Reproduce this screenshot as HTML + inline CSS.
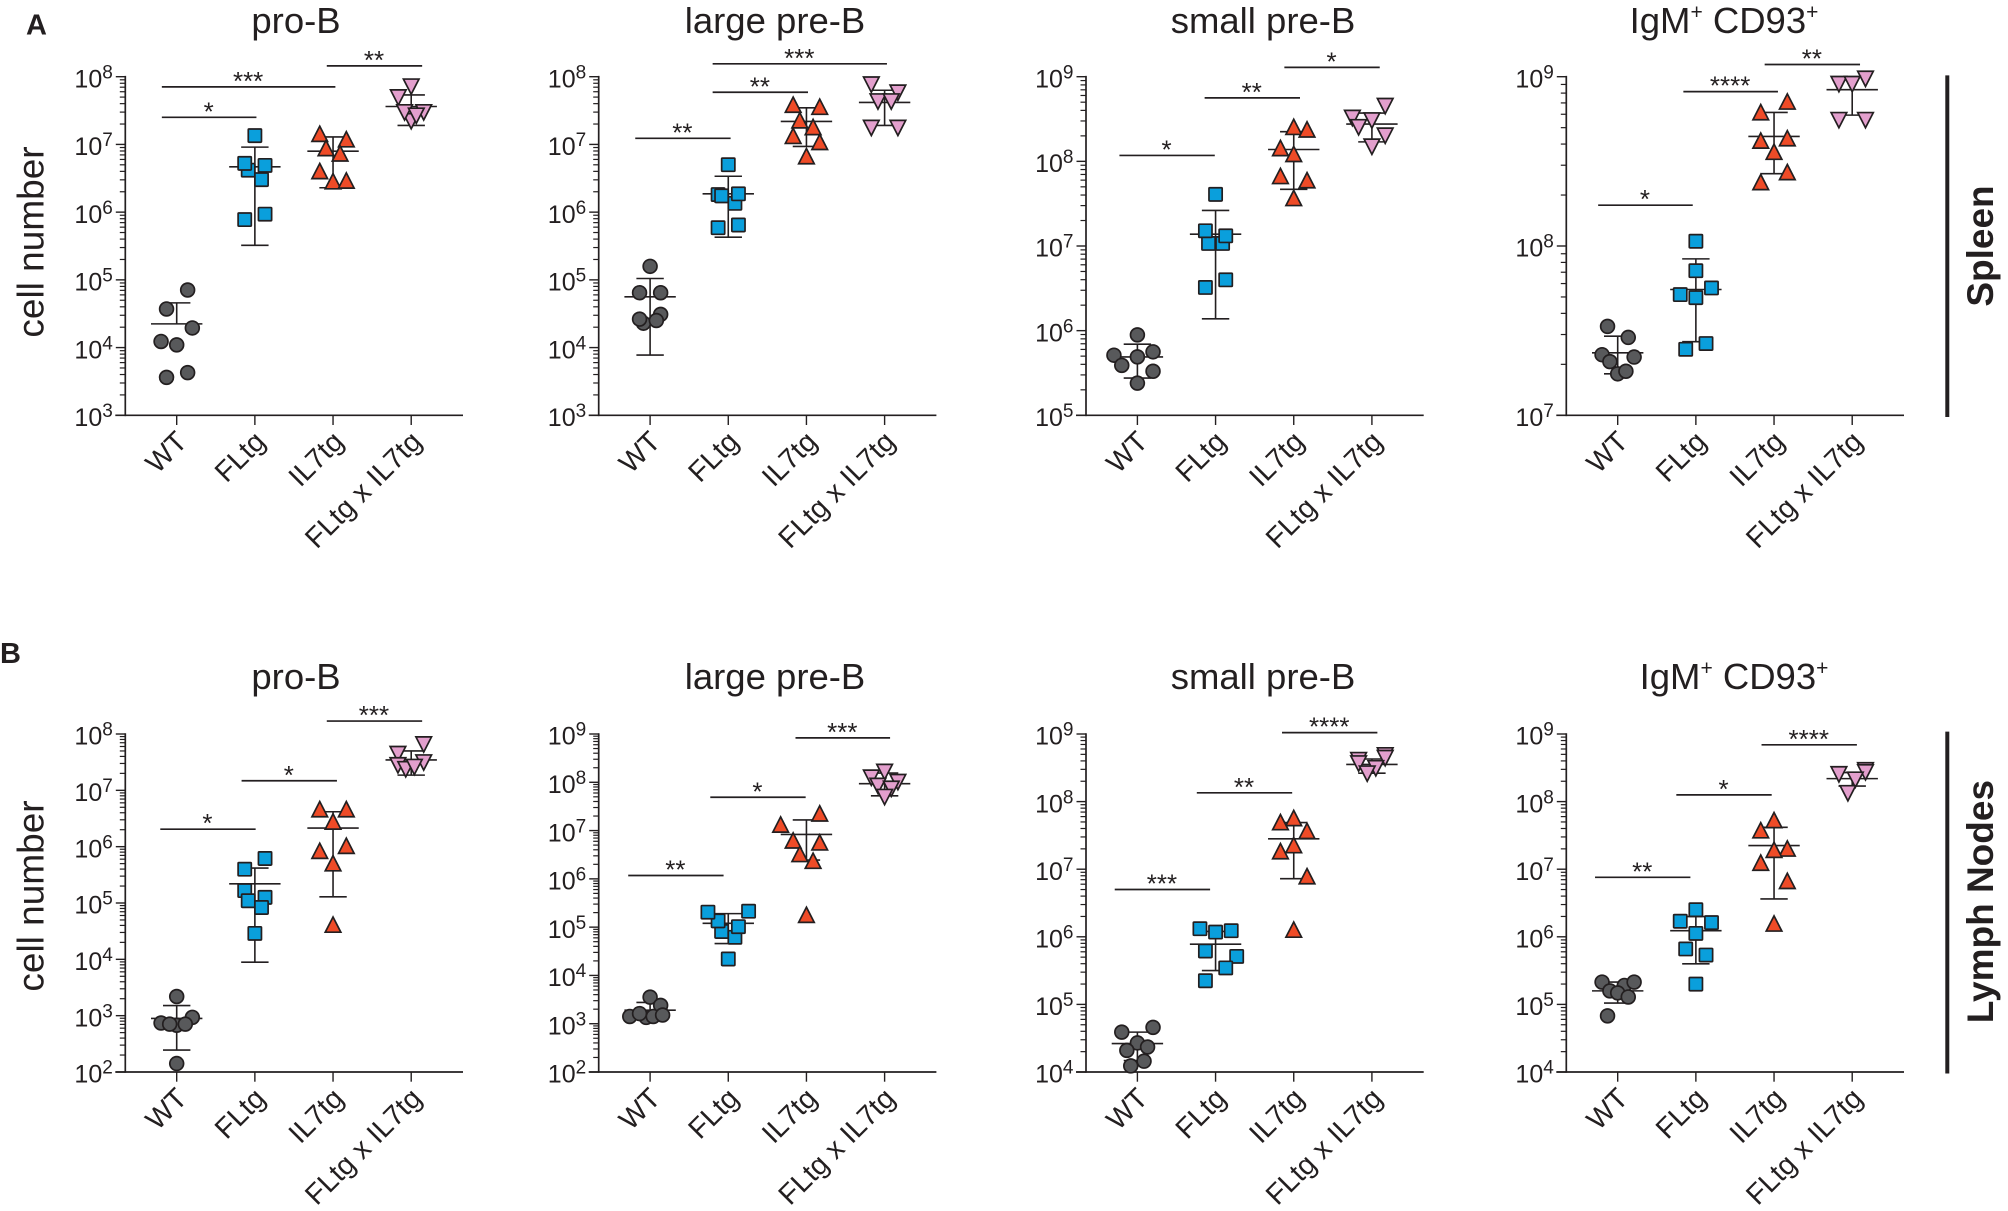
<!DOCTYPE html>
<html lang="en">
<head>
<meta charset="utf-8">
<title>B-cell subsets in spleen and lymph nodes</title>
<style>
  html, body { margin: 0; padding: 0; background: #fff; }
  svg { display: block; }
  text { font-family: "Liberation Sans", sans-serif; fill: #231f20; }
</style>
</head>
<body>
<svg id="figure" xmlns="http://www.w3.org/2000/svg" width="2008" height="1211" viewBox="0 0 2008 1211"></svg>
<script>
// Shared category labels. All y values below are log10(cell number).
const categories = ['WT', 'FLtg', 'IL7tg', 'FLtg x IL7tg'];

// Spleen pro-B
const spleenProBDecades = [3, 8];
const spleenProBValues = [[4.85,4.57,4.29,4.09,4.04,3.63,3.56],[7.13,6.62,6.72,6.69,6.48,5.97,5.89],[7.16,7.08,6.95,6.87,6.61,6.46,6.47],[7.85,7.69,7.34,7.47,7.47,7.42]];
const spleenProBOffsets = [[.14,-.13,.2,-.2,0,.14,-.13],[0,-.085,-.13,.13,.085,.13,-.13],[-.17,.17,-.09,.09,-.17,0,.17],[0,-.165,0,-.085,.16,.065]];
const spleenProBMeans = [4.35,6.67,6.90,7.56];
const spleenProBHighs = [4.66,6.96,7.11,7.73];
const spleenProBLows = [null,5.51,6.36,7.28];
const spleenProBStars = ['*','***','**'];
const spleenProBStarLevels = [7.40,7.85,8.16];
const spleenProBStarFrom = [-.19,-.19,1.92];
const spleenProBStarTo = [1.02,2.03,3.14];

// Spleen large pre-B
const spleenLargeDecades = [3, 8];
const spleenLargeValues = [[5.20,4.81,4.81,4.49,4.36,4.42,4.40],[6.70,6.26,6.13,6.24,6.27,5.81,5.77],[7.59,7.56,7.36,7.26,7.13,7.04,6.83],[7.88,7.76,7.63,7.63,7.24,7.24]];
const spleenLargeOffsets = [[0,-.135,.135,.135,-.085,-.135,.08],[0,-.13,.085,-.085,.13,.13,-.13],[-.17,.17,-.085,.085,-.17,.17,0],[-.17,.17,-.085,.085,-.17,.17]];
const spleenLargeMeans = [4.75,6.27,7.34,7.62];
const spleenLargeHighs = [5.02,6.53,7.54,7.80];
const spleenLargeLows = [3.89,5.63,6.97,7.28];
const spleenLargeStars = ['**','**','***'];
const spleenLargeStarLevels = [7.09,7.77,8.19];
const spleenLargeStarFrom = [-.19,.80,.80];
const spleenLargeStarTo = [1.03,2.02,3.03];

// Spleen small pre-B
const spleenSmallDecades = [5, 9];
const spleenSmallValues = [[5.95,5.75,5.71,5.59,5.69,5.52,5.38],[7.61,7.03,7.03,7.18,7.12,6.60,6.51],[8.41,8.38,8.16,8.09,7.83,7.78,7.57],[8.65,8.51,8.48,8.40,8.30,8.17]];
const spleenSmallOffsets = [[0,.2,-.3,-.2,0,.2,0],[0,-.09,.09,-.13,.13,.13,-.13],[0,.17,-.17,0,-.17,.17,0],[.17,-.25,0,-.17,.17,0]];
const spleenSmallMeans = [5.69,7.14,8.14,8.44];
const spleenSmallHighs = [5.84,7.42,8.35,8.57];
const spleenSmallLows = [5.44,6.14,7.67,8.23];
const spleenSmallStars = ['*','**','*'];
const spleenSmallStarLevels = [8.07,8.75,9.11];
const spleenSmallStarFrom = [-.23,.86,1.88];
const spleenSmallStarTo = [.99,2.08,3.10];

// Spleen IgM+ CD93+
const spleenIgmDecades = [7, 9];
const spleenIgmValues = [[7.525,7.460,7.358,7.344,7.317,7.245,7.260],[8.028,7.854,7.752,7.713,7.695,7.424,7.390],[8.855,8.792,8.624,8.638,8.558,8.438,8.379],[8.986,8.955,8.955,8.742,8.742]];
const spleenIgmOffsets = [[-.13,.135,-.2,.21,-.1,0,.105],[0,0,.2,-.2,0,.13,-.13],[.17,-.17,-.17,.17,0,.17,-.17],[.17,-.17,0,-.17,.17]];
const spleenIgmMeans = [7.369,7.743,8.647,8.923];
const spleenIgmHighs = [7.467,7.924,8.789,8.998];
const spleenIgmLows = [7.245,7.435,8.427,8.773];
const spleenIgmStars = ['*','****','**'];
const spleenIgmStarLevels = [8.241,8.912,9.072];
const spleenIgmStarFrom = [-.25,.84,1.88];
const spleenIgmStarTo = [.96,2.05,3.10];

// Lymph node pro-B
const nodeProBDecades = [2, 8];
const nodeProBValues = [[3.34,2.97,2.83,2.87,2.85,2.85,2.15],[5.79,5.60,5.22,5.10,5.04,4.92,4.46],[6.67,6.67,6.45,5.93,6.02,5.71,4.62],[7.81,7.64,7.49,7.44,7.37,7.41]];
const nodeProBOffsets = [[0,.2,0,-.2,-.09,.11,0],[.13,-.13,-.13,.13,-.085,.085,0],[-.17,.17,0,-.17,.17,0,0],[.16,-.17,.16,-.17,-.07,.04]];
const nodeProBMeans = [2.95,5.34,6.33,7.54];
const nodeProBHighs = [3.18,5.62,6.62,7.70];
const nodeProBLows = [2.39,3.95,5.11,7.27];
const nodeProBStars = ['*','*','***'];
const nodeProBStarLevels = [6.31,7.17,8.23];
const nodeProBStarFrom = [-.21,.83,1.92];
const nodeProBStarTo = [1.01,2.05,3.14];

// Lymph node large pre-B
const nodeLargeDecades = [2, 9];
const nodeLargeValues = [[3.55,3.38,3.15,3.13,3.21,3.15,3.18],[4.34,4.91,4.79,5.13,5.01,5.31,5.33],[7.36,7.13,6.80,6.76,6.52,6.38,5.26],[8.21,8.09,8.00,7.92,7.86,7.69]];
const nodeLargeOffsets = [[0,.135,-.26,-.05,-.135,.04,.16],[0,-.085,.085,-.13,.13,-.26,.26],[.17,-.33,-.17,.17,-.085,.085,0],[0,-.17,.17,-.085,.085,0]];
const nodeLargeMeans = [3.28,5.08,6.92,7.97];
const nodeLargeHighs = [3.44,5.28,7.22,8.19];
const nodeLargeLows = [3.09,4.66,6.39,7.72];
const nodeLargeStars = ['**','*','***'];
const nodeLargeStarLevels = [6.07,7.69,8.92];
const nodeLargeStarFrom = [-.28,.77,1.86];
const nodeLargeStarTo = [.94,1.99,3.07];

// Lymph node small pre-B
const nodeSmallDecades = [4, 9];
const nodeSmallValues = [[4.66,4.59,4.43,4.37,4.32,4.16,4.09],[6.12,6.09,6.07,5.79,5.71,5.54,5.35],[7.76,7.70,7.57,7.36,7.27,6.90,6.11],[8.68,8.64,8.61,8.56,8.49,8.41]];
const nodeSmallOffsets = [[.2,-.2,0,.13,-.135,.085,-.085],[-.2,.2,0,-.13,.27,.13,-.13],[0,-.17,.17,0,-.17,.17,0],[.17,.17,-.17,-.17,.05,-.06]];
const nodeSmallMeans = [4.42,5.89,7.45,8.55];
const nodeSmallHighs = [4.59,6.08,7.69,8.63];
const nodeSmallLows = [4.17,5.50,6.86,8.42];
const nodeSmallStars = ['***','**','****'];
const nodeSmallStarLevels = [6.70,8.13,9.02];
const nodeSmallStarFrom = [-.29,.76,1.85];
const nodeSmallStarTo = [.93,1.98,3.07];

// Lymph node IgM+ CD93+
const nodeIgmDecades = [4, 9];
const nodeIgmValues = [[5.28,5.33,5.33,5.20,5.17,5.11,4.83],[6.40,6.23,6.21,6.05,5.82,5.73,5.30],[7.73,7.58,7.31,7.29,7.10,6.83,6.20],[8.46,8.43,8.40,8.32,8.12]];
const nodeIgmOffsets = [[.085,-.2,.21,-.1,0,.135,-.13],[0,-.2,.2,0,-.13,.13,0],[0,-.17,.17,0,-.17,.17,0],[.17,.17,-.17,.04,-.055]];
const nodeIgmMeans = [5.20,6.09,7.35,8.34];
const nodeIgmHighs = [5.33,6.30,7.62,8.43];
const nodeIgmLows = [5.02,5.60,6.56,8.23];
const nodeIgmStars = ['**','*','****'];
const nodeIgmStarLevels = [6.88,8.10,8.84];
const nodeIgmStarFrom = [-.29,.75,1.84];
const nodeIgmStarTo = [.93,1.97,3.06];

const SVG_NS = 'http://www.w3.org/2000/svg';
const figure = document.getElementById('figure');
const INK = '#231f20';
const CATEGORY_STEP = 78.17;
const FIRST_CATEGORY = 51.4;
const GROUP_FILLS = ['#58595b', '#0a9fdc', '#ef4b27', '#e39fcd'];
const GROUP_NAMES = ['wt', 'fltg', 'il7tg', 'fltg-x-il7tg'];

function node(tag, parent, attrs) {
  const el = document.createElementNS(SVG_NS, tag);
  for (const key in attrs) el.setAttribute(key, attrs[key]);
  parent.appendChild(el);
  return el;
}

function rule(parent, name, x1, y1, x2, y2, width) {
  const el = node('line', parent, { x1: x1, y1: y1, x2: x2, y2: y2, stroke: INK, 'stroke-width': width });
  
  
  return el;
}

function label(parent, name, x, y, size, anchor, rotation, weight) {
  const el = node('text', parent, {
    transform: 'translate(' + x + ' ' + y + ') rotate(' + rotation + ')',
    'font-size': size,
    'text-anchor': anchor,
    'font-weight': weight
  });
  
  
  return el;
}

function span(parent, content, attrs) {
  const el = node('tspan', parent, attrs);
  el.textContent = content;
  return el;
}

function drawSymbol(parent, group, cx, cy, name) {
  const style = { fill: GROUP_FILLS[group], stroke: INK, 'stroke-width': 1.7, 'stroke-linejoin': 'miter' };
  let el;
  if (group === 0) {
    el = node('circle', parent, Object.assign({ cx: cx, cy: cy, r: 6.9 }, style));
  } else if (group === 1) {
    el = node('rect', parent, Object.assign({ x: cx - 6.6, y: cy - 6.6, width: 13.2, height: 13.2, rx: 0.8 }, style));
  } else if (group === 2) {
    el = node('polygon', parent, Object.assign({ points: [cx, cy - 7.4, cx + 7.8, cy + 7.8, cx - 7.8, cy + 7.8].join(' ') }, style));
  } else {
    el = node('polygon', parent, Object.assign({ points: [cx, cy + 7.4, cx + 7.8, cy - 7.8, cx - 7.8, cy - 7.8].join(' ') }, style));
  }
  
  
}

function drawPanel(p) {
  const g = node('g', figure, {});
  
  

  const yMin = p.decades[0];
  const yMax = p.decades[1];
  const yScale = function (v) { return p.bottom - (v - yMin) / (yMax - yMin) * (p.bottom - p.top); };
  const xScale = function (c) { return p.axisX + FIRST_CATEGORY + c * CATEGORY_STEP; };

  // Title
  const title = label(g, p.id + '-title', p.titleX, p.titleY, 36.5, 'middle', 0, 'normal');
  p.title.forEach(function (part) {
    if (part[1]) {
      span(title, part[0], { 'font-size': 21, dy: -14 });
    } else {
      span(title, part[0], { dy: title.childNodes.length ? 14 : 0 });
    }
  });

  // Axes
  rule(g, p.id + '-y-axis', p.axisX, p.top - 0.8, p.axisX, p.bottom + 0.8, 1.7);
  rule(g, p.id + '-x-axis', p.axisX - 10, p.bottom, p.axisX + 337.7, p.bottom, 1.7);

  // Y ticks and labels
  for (let e = yMin; e <= yMax; e++) {
    const ty = yScale(e);
    rule(g, p.id + '-y-tick-' + e, p.axisX - 9.5, ty, p.axisX, ty, 1.4);
    const tick = label(g, p.id + '-y-tick-label-' + e, p.axisX - 12.5, ty + 10.7, 25, 'end', 0, 'normal');
    span(tick, '10', {});
    span(tick, String(e), { 'font-size': 19, dy: -9 });
    if (e < yMax) {
      for (let m = 2; m < 10; m++) {
        const my = yScale(e + Math.log10(m));
        rule(g, p.id + '-y-minor-tick', p.axisX - 5.5, my, p.axisX, my, 1.2);
      }
    }
  }

  // X ticks and labels
  categories.forEach(function (cat, c) {
    const cx = xScale(c);
    rule(g, p.id + '-x-tick-' + GROUP_NAMES[c], cx, p.bottom, cx, p.bottom + 9.7, 1.4);
    const text = label(g, p.id + '-x-label-' + GROUP_NAMES[c], cx + 12, p.bottom + 28, 28.5, 'end', -45, 'normal');
    text.textContent = cat;
  });

  // Mean lines and SD whiskers
  categories.forEach(function (cat, c) {
    const cx = xScale(c);
    const mean = yScale(p.means[c]);
    const high = yScale(p.highs[c]);
    const hasLow = p.lows[c] !== null;
    const low = hasLow ? yScale(p.lows[c]) : mean;
    rule(g, p.id + '-sd-bar-' + GROUP_NAMES[c], cx, high, cx, low, 1.6);
    rule(g, p.id + '-mean-line-' + GROUP_NAMES[c], cx - 25.7, mean, cx + 25.7, mean, 1.6);
    rule(g, p.id + '-sd-high-cap-' + GROUP_NAMES[c], cx - 13.7, high, cx + 13.7, high, 1.6);
    if (hasLow) {
      rule(g, p.id + '-sd-low-cap-' + GROUP_NAMES[c], cx - 13.7, low, cx + 13.7, low, 1.6);
    }
  });

  // Data points
  p.values.forEach(function (series, c) {
    series.forEach(function (v, i) {
      drawSymbol(g, c, xScale(c + p.offsets[c][i]), yScale(v), p.id + '-point-' + GROUP_NAMES[c]);
    });
  });

  // Significance bars
  p.stars.forEach(function (s, i) {
    const sy = yScale(p.starLevels[i]);
    const x1 = xScale(p.starFrom[i]);
    const x2 = xScale(p.starTo[i]);
    rule(g, p.id + '-significance-bar-' + (i + 1), x1, sy, x2, sy, 1.7);
    const text = label(g, p.id + '-significance-stars-' + (i + 1), (x1 + x2) / 2 - 0.5, sy + 3, 26, 'middle', 0, 'normal');
    text.textContent = s;
  });
}

const ROW_A_TOP = 76.7, ROW_A_BOTTOM = 415.3, ROW_B_TOP = 734, ROW_B_BOTTOM = 1072;
const PRO_B = [['pro-B', false]];
const LARGE = [['large pre-B', false]];
const SMALL = [['small pre-B', false]];
const IGM = [['IgM', false], ['+', true], [' CD93', false], ['+', true]];

drawPanel({ id: 'spleen-pro-b', title: PRO_B, titleX: 296, titleY: 33, axisX: 125.3, top: ROW_A_TOP, bottom: ROW_A_BOTTOM, decades: spleenProBDecades, values: spleenProBValues, offsets: spleenProBOffsets, means: spleenProBMeans, highs: spleenProBHighs, lows: spleenProBLows, stars: spleenProBStars, starLevels: spleenProBStarLevels, starFrom: spleenProBStarFrom, starTo: spleenProBStarTo });
drawPanel({ id: 'spleen-large-pre-b', title: LARGE, titleX: 775, titleY: 33, axisX: 598.7, top: ROW_A_TOP, bottom: ROW_A_BOTTOM, decades: spleenLargeDecades, values: spleenLargeValues, offsets: spleenLargeOffsets, means: spleenLargeMeans, highs: spleenLargeHighs, lows: spleenLargeLows, stars: spleenLargeStars, starLevels: spleenLargeStarLevels, starFrom: spleenLargeStarFrom, starTo: spleenLargeStarTo });
drawPanel({ id: 'spleen-small-pre-b', title: SMALL, titleX: 1263, titleY: 33, axisX: 1086, top: ROW_A_TOP, bottom: ROW_A_BOTTOM, decades: spleenSmallDecades, values: spleenSmallValues, offsets: spleenSmallOffsets, means: spleenSmallMeans, highs: spleenSmallHighs, lows: spleenSmallLows, stars: spleenSmallStars, starLevels: spleenSmallStarLevels, starFrom: spleenSmallStarFrom, starTo: spleenSmallStarTo });
drawPanel({ id: 'spleen-igm-cd93', title: IGM, titleX: 1724, titleY: 33, axisX: 1566.3, top: ROW_A_TOP, bottom: ROW_A_BOTTOM, decades: spleenIgmDecades, values: spleenIgmValues, offsets: spleenIgmOffsets, means: spleenIgmMeans, highs: spleenIgmHighs, lows: spleenIgmLows, stars: spleenIgmStars, starLevels: spleenIgmStarLevels, starFrom: spleenIgmStarFrom, starTo: spleenIgmStarTo });
drawPanel({ id: 'node-pro-b', title: PRO_B, titleX: 296, titleY: 689, axisX: 125.3, top: ROW_B_TOP, bottom: ROW_B_BOTTOM, decades: nodeProBDecades, values: nodeProBValues, offsets: nodeProBOffsets, means: nodeProBMeans, highs: nodeProBHighs, lows: nodeProBLows, stars: nodeProBStars, starLevels: nodeProBStarLevels, starFrom: nodeProBStarFrom, starTo: nodeProBStarTo });
drawPanel({ id: 'node-large-pre-b', title: LARGE, titleX: 775, titleY: 689, axisX: 598.7, top: ROW_B_TOP, bottom: ROW_B_BOTTOM, decades: nodeLargeDecades, values: nodeLargeValues, offsets: nodeLargeOffsets, means: nodeLargeMeans, highs: nodeLargeHighs, lows: nodeLargeLows, stars: nodeLargeStars, starLevels: nodeLargeStarLevels, starFrom: nodeLargeStarFrom, starTo: nodeLargeStarTo });
drawPanel({ id: 'node-small-pre-b', title: SMALL, titleX: 1263, titleY: 689, axisX: 1086, top: ROW_B_TOP, bottom: ROW_B_BOTTOM, decades: nodeSmallDecades, values: nodeSmallValues, offsets: nodeSmallOffsets, means: nodeSmallMeans, highs: nodeSmallHighs, lows: nodeSmallLows, stars: nodeSmallStars, starLevels: nodeSmallStarLevels, starFrom: nodeSmallStarFrom, starTo: nodeSmallStarTo });
drawPanel({ id: 'node-igm-cd93', title: IGM, titleX: 1734, titleY: 689, axisX: 1566.3, top: ROW_B_TOP, bottom: ROW_B_BOTTOM, decades: nodeIgmDecades, values: nodeIgmValues, offsets: nodeIgmOffsets, means: nodeIgmMeans, highs: nodeIgmHighs, lows: nodeIgmLows, stars: nodeIgmStars, starLevels: nodeIgmStarLevels, starFrom: nodeIgmStarFrom, starTo: nodeIgmStarTo });

// Figure-level annotations
label(figure, 'panel-label-a', 26, 34.4, 29, 'start', 0, 'bold').textContent = 'A';
label(figure, 'panel-label-b', 0, 663, 29, 'start', 0, 'bold').textContent = 'B';
label(figure, 'y-axis-title-spleen', 43.5, 242, 37, 'middle', -90, 'normal').textContent = 'cell number';
label(figure, 'y-axis-title-lymph-nodes', 43.5, 896, 37, 'middle', -90, 'normal').textContent = 'cell number';
rule(figure, 'spleen-row-bracket', 1947.3, 75.4, 1947.3, 417, 4);
rule(figure, 'lymph-nodes-row-bracket', 1947.3, 731.6, 1947.3, 1073.5, 4);
label(figure, 'spleen-row-label', 1993, 246, 37, 'middle', -90, 'bold').textContent = 'Spleen';
label(figure, 'lymph-nodes-row-label', 1993, 901.6, 37, 'middle', -90, 'bold').textContent = 'Lymph Nodes';
</script>
</body>
</html>
